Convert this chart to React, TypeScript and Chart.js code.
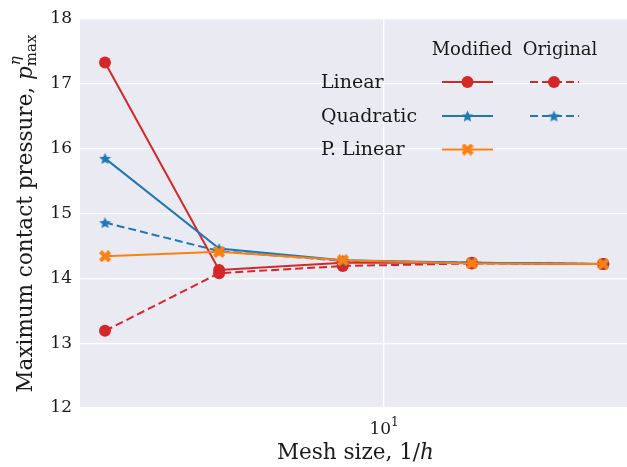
import React, { useEffect, useRef } from "react";
import { Chart, registerables } from "chart.js";

Chart.register(...registerables);

const meshSize = [2.372, 4.272, 8.083, 15.72, 30.98];
const linearModified = [17.33, 14.13, 14.24, 14.24, 14.22];
const linearOriginal = [13.19, 14.08, 14.19, 14.23, 14.22];
const quadModified = [15.85, 14.46, 14.28, 14.24, 14.22];
const quadOriginal = [14.86, 14.42, 14.27, 14.24, 14.22];
const pLinear = [14.34, 14.41, 14.28, 14.23, 14.22];
const yTicks = [12, 13, 14, 15, 16, 17, 18];
const xTickValues = [10];

const RED = "#d62728";
const BLUE = "#1f77b4";
const ORANGE = "#ff7f0e";
const BG = "#eaeaf2";
const TEXT = "#1a1a1a";
const FONT = "'DejaVu Serif', serif";

function makeStar(color: string, size: number): HTMLCanvasElement {
  const c = document.createElement("canvas");
  c.width = size;
  c.height = size;
  const ctx = c.getContext("2d")!;
  const cx = size / 2, cy = size / 2 + 0.6;
  const R = size / 2 - 0.3, r = R * 0.45;
  ctx.beginPath();
  for (let i = 0; i < 10; i++) {
    const ang = -Math.PI / 2 + (i * Math.PI) / 5;
    const rad = i % 2 === 0 ? R : r;
    const x = cx + rad * Math.cos(ang);
    const y = cy + rad * Math.sin(ang);
    if (i === 0) ctx.moveTo(x, y);
    else ctx.lineTo(x, y);
  }
  ctx.closePath();
  ctx.fillStyle = color;
  ctx.fill();
  return c;
}

function makeX(color: string, size: number): HTMLCanvasElement {
  const c = document.createElement("canvas");
  c.width = size;
  c.height = size;
  const ctx = c.getContext("2d")!;
  ctx.translate(size / 2, size / 2);
  ctx.rotate(Math.PI / 4);
  const L = size / 2 + 0.5, w = size * 0.17;
  ctx.beginPath();
  ctx.moveTo(-w, -L);
  ctx.lineTo(w, -L);
  ctx.lineTo(w, -w);
  ctx.lineTo(L, -w);
  ctx.lineTo(L, w);
  ctx.lineTo(w, w);
  ctx.lineTo(w, L);
  ctx.lineTo(-w, L);
  ctx.lineTo(-w, w);
  ctx.lineTo(-L, w);
  ctx.lineTo(-L, -w);
  ctx.lineTo(-w, -w);
  ctx.closePath();
  ctx.fillStyle = color;
  ctx.fill();
  return c;
}

export default function App() {
  const ref = useRef<HTMLCanvasElement | null>(null);

  useEffect(() => {
    document.body.style.margin = "0";
    document.body.style.overflow = "hidden";
    const canvas = ref.current;
    if (!canvas) return;
    const starBlue = makeStar(BLUE, 13);
    const xOrange = makeX(ORANGE, 12);

    const pts = (arr: number[]) => arr.map((v, i) => ({ x: meshSize[i], y: v }));

    const bgPlugin = {
      id: "bg",
      beforeDraw(chart: any) {
        const { ctx, chartArea } = chart;
        ctx.save();
        ctx.fillStyle = BG;
        ctx.fillRect(chartArea.left, chartArea.top, chartArea.right - chartArea.left, chartArea.bottom - chartArea.top);
        ctx.restore();
      },
    };

    const textPlugin = {
      id: "texts",
      afterDraw(chart: any) {
        const { ctx, chartArea } = chart;
        ctx.save();
        ctx.fillStyle = TEXT;
        const xs = chart.scales.x;
        xTickValues.forEach((v) => {
          const px = xs.getPixelForValue(v);
          ctx.font = `17px ${FONT}`;
          const w10 = ctx.measureText("10").width;
          ctx.font = `12px ${FONT}`;
          const w1 = ctx.measureText("1").width;
          const start = px - (w10 + w1) / 2;
          ctx.textBaseline = "alphabetic";
          ctx.textAlign = "left";
          ctx.font = `17px ${FONT}`;
          ctx.fillText("10", start, 434);
          ctx.font = `12px ${FONT}`;
          ctx.fillText("1", start + w10, 426);
        });
        {
          const a = "Mesh size, 1/";
          ctx.font = `21.5px ${FONT}`;
          const wa = ctx.measureText(a).width;
          ctx.font = `italic 21.5px ${FONT}`;
          const wh = ctx.measureText("h").width;
          const cx = (chartArea.left + chartArea.right) / 2 + 2;
          const start = cx - (wa + wh) / 2;
          ctx.textAlign = "left";
          ctx.textBaseline = "alphabetic";
          ctx.font = `21.5px ${FONT}`;
          ctx.fillText(a, start, 459);
          ctx.font = `italic 21.5px ${FONT}`;
          ctx.fillText("h", start + wa, 459);
        }
        {
          const a = "Maximum contact pressure, ";
          ctx.font = `21.5px ${FONT}`;
          const wa = ctx.measureText(a).width;
          ctx.font = `italic 21.5px ${FONT}`;
          const wp = ctx.measureText("p").width;
          ctx.font = `italic 15px ${FONT}`;
          const we = ctx.measureText("η").width;
          ctx.font = `15px ${FONT}`;
          const wm = ctx.measureText("max").width;
          const total = wa + wp + Math.max(we, wm);
          const cy = (chartArea.top + chartArea.bottom) / 2;
          ctx.translate(32, cy);
          ctx.rotate(-Math.PI / 2);
          let x = -total / 2;
          ctx.textAlign = "left";
          ctx.textBaseline = "alphabetic";
          ctx.font = `21.5px ${FONT}`;
          ctx.fillText(a, x, 0);
          x += wa;
          ctx.font = `italic 21.5px ${FONT}`;
          ctx.fillText("p", x, 0);
          x += wp;
          ctx.font = `italic 15px ${FONT}`;
          ctx.fillText("η", x + 1, -12);
          ctx.font = `15px ${FONT}`;
          ctx.fillText("max", x, 4);
        }
        ctx.restore();

        ctx.save();
        ctx.fillStyle = TEXT;
        ctx.textBaseline = "middle";
        ctx.textAlign = "center";
        ctx.font = `18px ${FONT}`;
        ctx.fillText("Modified", 472, 50);
        ctx.fillText("Original", 560, 50);
        ctx.textAlign = "left";
        ctx.font = `19px ${FONT}`;
        const rows = [
          { label: "Linear", y: 82, color: RED, marker: "circle", orig: true },
          { label: "Quadratic", y: 116, color: BLUE, marker: "star", orig: true },
          { label: "P. Linear", y: 149.5, color: ORANGE, marker: "x", orig: false },
        ];
        const drawMarker = (m: string, color: string, x: number, y: number) => {
          if (m === "circle") {
            ctx.beginPath();
            ctx.arc(x, y, 6, 0, Math.PI * 2);
            ctx.fillStyle = color;
            ctx.fill();
          } else if (m === "star") {
            ctx.drawImage(starBlue, x - starBlue.width / 2, y - starBlue.height / 2);
          } else {
            ctx.drawImage(xOrange, x - xOrange.width / 2, y - xOrange.height / 2);
          }
        };
        rows.forEach((r) => {
          ctx.fillStyle = TEXT;
          ctx.fillText(r.label, 321, r.y + 1);
          ctx.strokeStyle = r.color;
          ctx.lineWidth = 2;
          ctx.setLineDash([]);
          ctx.beginPath();
          ctx.moveTo(442, r.y);
          ctx.lineTo(493, r.y);
          ctx.stroke();
          drawMarker(r.marker, r.color, 467.5, r.y);
          if (r.orig) {
            ctx.setLineDash([8, 4]);
            ctx.beginPath();
            ctx.moveTo(530, r.y);
            ctx.lineTo(579, r.y);
            ctx.stroke();
            ctx.setLineDash([]);
            drawMarker(r.marker, r.color, 554, r.y);
          }
        });
        ctx.restore();
      },
    };

    const chart = new Chart(canvas, {
      type: "line",
      data: {
        datasets: [
          {
            label: "P. Linear",
            data: pts(pLinear),
            borderColor: ORANGE,
            backgroundColor: ORANGE,
            borderWidth: 2,
            pointStyle: xOrange as any,
            pointRadius: 6,
          },
          {
            label: "Quadratic Original",
            data: pts(quadOriginal),
            borderColor: BLUE,
            backgroundColor: BLUE,
            borderWidth: 2,
            borderDash: [8, 4],
            pointStyle: starBlue as any,
            pointRadius: 6,
          },
          {
            label: "Quadratic Modified",
            data: pts(quadModified),
            borderColor: BLUE,
            backgroundColor: BLUE,
            borderWidth: 2,
            pointStyle: starBlue as any,
            pointRadius: 6,
          },
          {
            label: "Linear Original",
            data: pts(linearOriginal),
            borderColor: RED,
            backgroundColor: RED,
            borderWidth: 2,
            borderDash: [8, 4],
            pointStyle: "circle",
            pointRadius: 6,
            pointBorderWidth: 0,
          },
          {
            label: "Linear Modified",
            data: pts(linearModified),
            borderColor: RED,
            backgroundColor: RED,
            borderWidth: 2,
            pointStyle: "circle",
            pointRadius: 6,
            pointBorderWidth: 0,
          },
        ],
      },
      options: {
        responsive: false,
        animation: false,
        devicePixelRatio: 1,
        layout: { padding: { top: 19, right: 0, left: 0, bottom: 0 }, autoPadding: false },
        plugins: { legend: { display: false }, tooltip: { enabled: false } },
        elements: { line: { tension: 0 } },
        scales: {
          x: {
            type: "logarithmic",
            min: 2.085,
            max: 35.0,
            border: { display: false },
            grid: { color: "#ffffff", lineWidth: 1.3, drawTicks: false },
            ticks: { display: false },
            afterBuildTicks: (scale: any) => {
              scale.ticks = xTickValues.map((v) => ({ value: v }));
            },
            afterFit: (scale: any) => {
              scale.height = 59;
              scale.paddingLeft = 0;
              scale.paddingRight = 0;
            },
          },
          y: {
            type: "linear",
            min: 12,
            max: 18,
            border: { display: false },
            grid: { color: "#ffffff", lineWidth: 1.3, drawTicks: false },
            afterBuildTicks: (scale: any) => {
              scale.ticks = yTicks.map((v) => ({ value: v }));
            },
            ticks: {
              padding: 8,
              color: TEXT,
              font: { family: FONT, size: 17 },
              callback: (v: any) => String(v),
            },
            afterFit: (scale: any) => {
              scale.width = 80;
            },
          },
        },
      },
      plugins: [bgPlugin, textPlugin],
    });
    return () => chart.destroy();
  }, []);

  return (
    <div style={{ position: "absolute", left: 0, top: 0, width: 627, height: 467, background: "#fff", overflow: "hidden" }}>
      <canvas ref={ref} width={627} height={467} style={{ display: "block", width: 627, height: 467 }} />
    </div>
  );
}
